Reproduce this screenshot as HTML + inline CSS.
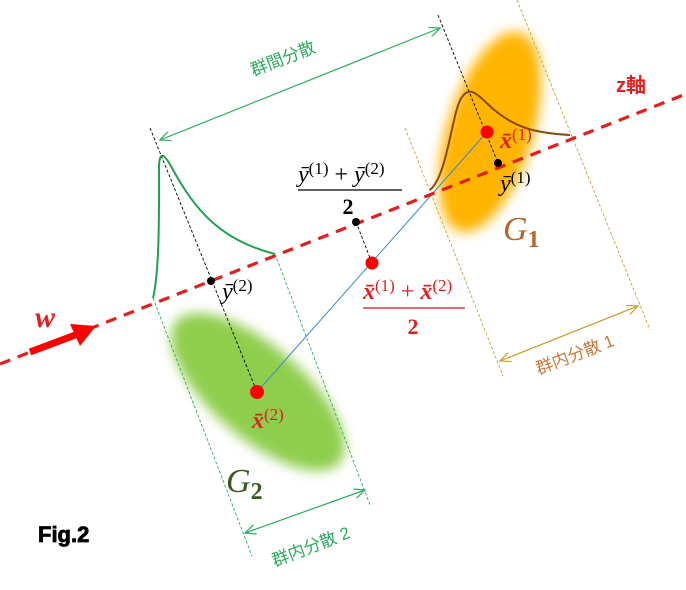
<!DOCTYPE html>
<html><head><meta charset="utf-8">
<style>
html,body{margin:0;padding:0;background:#fff;}
svg{display:block;}
.m{font-family:"Liberation Serif","DejaVu Serif",serif;}
.j{font-family:"Liberation Sans","Noto Sans CJK JP",sans-serif;}
</style></head>
<body>
<svg width="686" height="590" viewBox="0 0 686 590" xmlns="http://www.w3.org/2000/svg">
<defs>
<filter id="b1" x="-30%" y="-30%" width="160%" height="160%"><feGaussianBlur stdDeviation="6"/></filter>
<marker id="ag" markerWidth="12" markerHeight="10" refX="11" refY="5" orient="auto-start-reverse" markerUnits="userSpaceOnUse">
<path d="M0,0 L11,5 L0,10" fill="none" stroke="#2eaa5e" stroke-width="1.2"/></marker>
<marker id="ao" markerWidth="12" markerHeight="10" refX="11" refY="5" orient="auto-start-reverse" markerUnits="userSpaceOnUse">
<path d="M0,0 L11,5 L0,10" fill="none" stroke="#c8a030" stroke-width="1.2"/></marker>
</defs>

<ellipse cx="490" cy="132" rx="43" ry="104" transform="rotate(17 490 132)" fill="#ffb400" filter="url(#b1)"/>
<ellipse cx="258" cy="392" rx="108" ry="46" transform="rotate(41 258 392)" fill="#8fce4e" filter="url(#b1)"/>

<line x1="150" y1="128" x2="257" y2="392" stroke="#000" stroke-width="0.9" stroke-dasharray="3,2"/>
<line x1="438" y1="15" x2="498" y2="163" stroke="#000" stroke-width="0.9" stroke-dasharray="3,2"/>
<line x1="356" y1="222" x2="372" y2="263" stroke="#000" stroke-width="0.9" stroke-dasharray="3,2"/>
<line x1="153" y1="298" x2="252" y2="556" stroke="#2eaa5e" stroke-width="0.9" stroke-dasharray="3,2"/>
<line x1="275" y1="254" x2="370" y2="505" stroke="#2eaa5e" stroke-width="0.9" stroke-dasharray="3,2"/>
<line x1="405" y1="128" x2="503" y2="376" stroke="#c8a030" stroke-width="0.9" stroke-dasharray="3,2"/>
<line x1="517" y1="0" x2="650" y2="330" stroke="#c8a030" stroke-width="0.9" stroke-dasharray="3,2"/>

<line x1="257" y1="392" x2="487" y2="132" stroke="#3a8ac8" stroke-width="1"/>

<line x1="0" y1="364" x2="686" y2="94" stroke="#e02020" stroke-width="3.2" stroke-dasharray="11,8"/>
<line x1="30" y1="352" x2="78" y2="334" stroke="#f00" stroke-width="7"/>
<polygon points="96,326 70,324 80,346" fill="#f00"/>

<path d="M153,298 C160,270 159,200 159,165 C160,150 165,155 172,168 C195,210 220,240 275,254" fill="none" stroke="#22a050" stroke-width="2"/>
<path d="M430,190 C448,175 452,110 462,97 C470,85 478,95 492,108 C515,128 535,133 570,135" fill="none" stroke="#8a4a12" stroke-width="2"/>

<line x1="160" y1="140" x2="440" y2="28" stroke="#2eaa5e" stroke-width="1.2" marker-start="url(#ag)" marker-end="url(#ag)"/>
<line x1="245" y1="533" x2="365" y2="490" stroke="#2eaa5e" stroke-width="1.2" marker-start="url(#ag)" marker-end="url(#ag)"/>
<line x1="500" y1="361" x2="638" y2="306" stroke="#c8a030" stroke-width="1.2" marker-start="url(#ao)" marker-end="url(#ao)"/>

<circle cx="487" cy="132" r="6.5" fill="#f00"/>
<circle cx="372" cy="263" r="6.5" fill="#f00"/>
<circle cx="257" cy="392" r="7" fill="#f00"/>
<circle cx="498" cy="163" r="4" fill="#000"/>
<circle cx="211" cy="281" r="4" fill="#000"/>
<circle cx="356" cy="222" r="4" fill="#000"/>

<text class="j" x="285" y="64" font-size="17" fill="#2eaa5e" text-anchor="middle" transform="rotate(-21 285 64)">群間分散</text>
<text class="j" x="313" y="552" font-size="17" fill="#2eaa5e" text-anchor="middle" transform="rotate(-21 313 552)">群内分散 2</text>
<text class="j" x="577" y="360" font-size="17" fill="#c87a3a" text-anchor="middle" transform="rotate(-21 577 360)">群内分散 1</text>
<text class="j" x="616" y="92" font-size="20" font-weight="bold" fill="#e02020">z軸</text>
<text x="38" y="542" font-family="Liberation Sans,sans-serif" font-size="22" font-weight="bold" fill="#000" stroke="#000" stroke-width="0.8">Fig.2</text>

<text class="m" x="35" y="327" font-size="30" font-style="italic" font-weight="bold" fill="#e02020">w</text>
<text class="m" x="500" y="148" font-size="24" fill="#e02020"><tspan font-weight="bold" font-style="italic">x̄</tspan><tspan font-size="17" dy="-8">(1)</tspan></text>
<text class="m" x="500" y="191" font-size="24" fill="#000"><tspan font-style="italic">ȳ</tspan><tspan font-size="17" dy="-8">(1)</tspan></text>
<text class="m" x="503" y="240" font-size="34" font-style="italic" fill="#b8652a">G<tspan font-size="24" font-style="normal" font-weight="bold" dy="7">1</tspan></text>
<text class="m" x="222" y="299" font-size="24" fill="#000"><tspan font-style="italic">ȳ</tspan><tspan font-size="17" dy="-8">(2)</tspan></text>
<text class="m" x="252" y="428" font-size="24" fill="#e02020"><tspan font-weight="bold" font-style="italic">x̄</tspan><tspan font-size="17" dy="-8">(2)</tspan></text>
<text class="m" x="226" y="492" font-size="34" font-style="italic" fill="#3a5a20">G<tspan font-size="24" font-style="normal" font-weight="bold" dy="7">2</tspan></text>

<text class="m" x="298" y="182" font-size="24" fill="#000"><tspan font-style="italic">ȳ</tspan><tspan font-size="17" dy="-8">(1)</tspan><tspan dy="8"> + </tspan><tspan font-style="italic">ȳ</tspan><tspan font-size="17" dy="-8">(2)</tspan></text>
<line x1="298" y1="190" x2="402" y2="190" stroke="#000" stroke-width="1.2"/>
<text class="m" x="348" y="214" font-size="22" font-weight="bold" text-anchor="middle" fill="#000">2</text>

<text class="m" x="363" y="299" font-size="24" fill="#e02020"><tspan font-weight="bold" font-style="italic">x̄</tspan><tspan font-size="17" dy="-8">(1)</tspan><tspan dy="8"> + </tspan><tspan font-weight="bold" font-style="italic">x̄</tspan><tspan font-size="17" dy="-8">(2)</tspan></text>
<line x1="363" y1="308" x2="465" y2="308" stroke="#c02020" stroke-width="1.2"/>
<text class="m" x="413" y="334" font-size="22" font-weight="bold" text-anchor="middle" fill="#e02020">2</text>
</svg>
</body></html>
